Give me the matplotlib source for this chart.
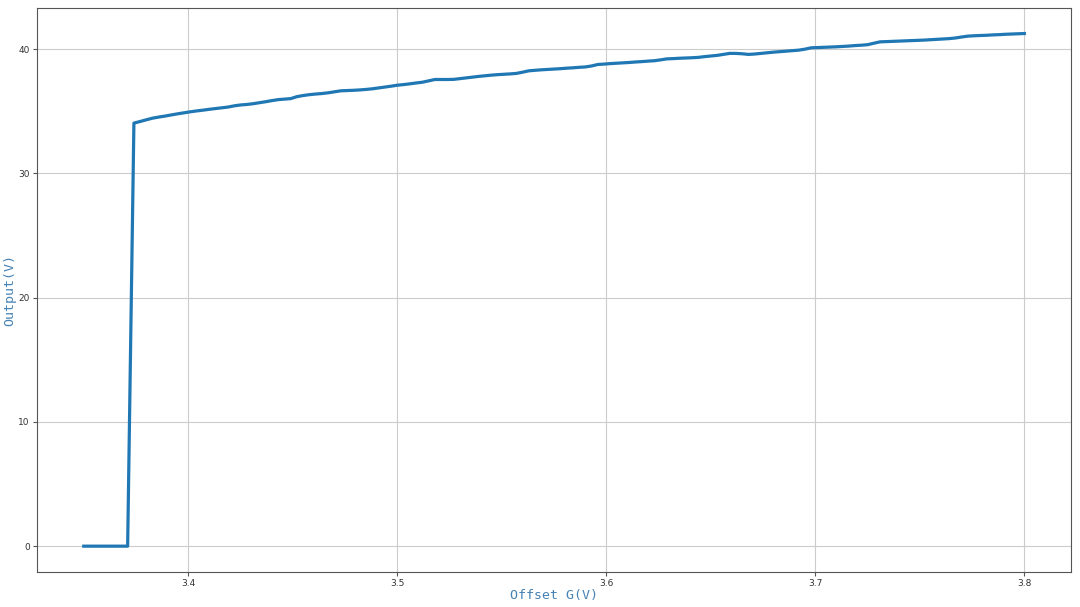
import numpy as np
import matplotlib
matplotlib.use("Agg")
import matplotlib.pyplot as plt

# 偏置扫描: 151 个点, 3.35 V ~ 3.80 V
offset_g = np.linspace(3.35, 3.80, 151)

# 前 8 个点输出为 0, 之后读图得到的输出电压
output_off = [0.0] * 8
output_on = [
    34.05, 34.18, 34.32, 34.45, 34.54, 34.62, 34.71, 34.80, 34.88, 34.96,
    35.03, 35.09, 35.16, 35.22, 35.28, 35.34, 35.44, 35.51, 35.55, 35.61,
    35.69, 35.77, 35.86, 35.94, 35.98, 36.02, 36.18, 36.27, 36.34, 36.39,
    36.43, 36.49, 36.57, 36.65, 36.67, 36.69, 36.72, 36.76, 36.81, 36.88,
    36.95, 37.02, 37.10, 37.15, 37.21, 37.28, 37.34, 37.45, 37.56, 37.56,
    37.56, 37.57, 37.63, 37.69, 37.75, 37.81, 37.86, 37.91, 37.95, 37.98,
    38.01, 38.05, 38.15, 38.26, 38.30, 38.34, 38.37, 38.40, 38.43, 38.47,
    38.50, 38.54, 38.57, 38.65, 38.77, 38.80, 38.84, 38.87, 38.90, 38.93,
    38.97, 39.00, 39.04, 39.07, 39.14, 39.22, 39.24, 39.27, 39.29, 39.31,
    39.34, 39.40, 39.45, 39.50, 39.58, 39.66, 39.66, 39.63, 39.58, 39.61,
    39.66, 39.71, 39.76, 39.80, 39.84, 39.88, 39.92, 40.00, 40.11, 40.13,
    40.15, 40.17, 40.19, 40.22, 40.25, 40.29, 40.32, 40.36, 40.48, 40.59,
    40.61, 40.63, 40.65, 40.67, 40.69, 40.71, 40.73, 40.76, 40.79, 40.82,
    40.85, 40.90, 40.98, 41.05, 41.08, 41.10, 41.12, 41.15, 41.17, 41.20,
    41.22, 41.24, 41.26,
]
output_v = output_off + output_on

label_color = "#4682b4"

fig = plt.figure(figsize=(10.8, 6.07), dpi=100)
ax = fig.add_axes([0.034, 0.058, 0.958, 0.929])

ax.plot(offset_g, output_v, color="#1f77b4", linewidth=2.3)

ax.grid(True, color="#cccccc", linewidth=0.8)
ax.set_xticks([3.4, 3.5, 3.6, 3.7, 3.8])
ax.set_yticks([0, 10, 20, 30, 40])
ax.tick_params(labelsize=6.5, length=3, pad=2, color="#555555",
               labelcolor="#333333")
for s in ax.spines.values():
    s.set_color("#555555")

ax.set_xlabel("Offset G(V)", fontsize=9.5, color=label_color,
              family="DejaVu Sans Mono", labelpad=1)
ax.set_ylabel("Output(V)", fontsize=9.5, color=label_color,
              family="DejaVu Sans Mono", labelpad=1.5)

plt.savefig("out.png", dpi=100)
